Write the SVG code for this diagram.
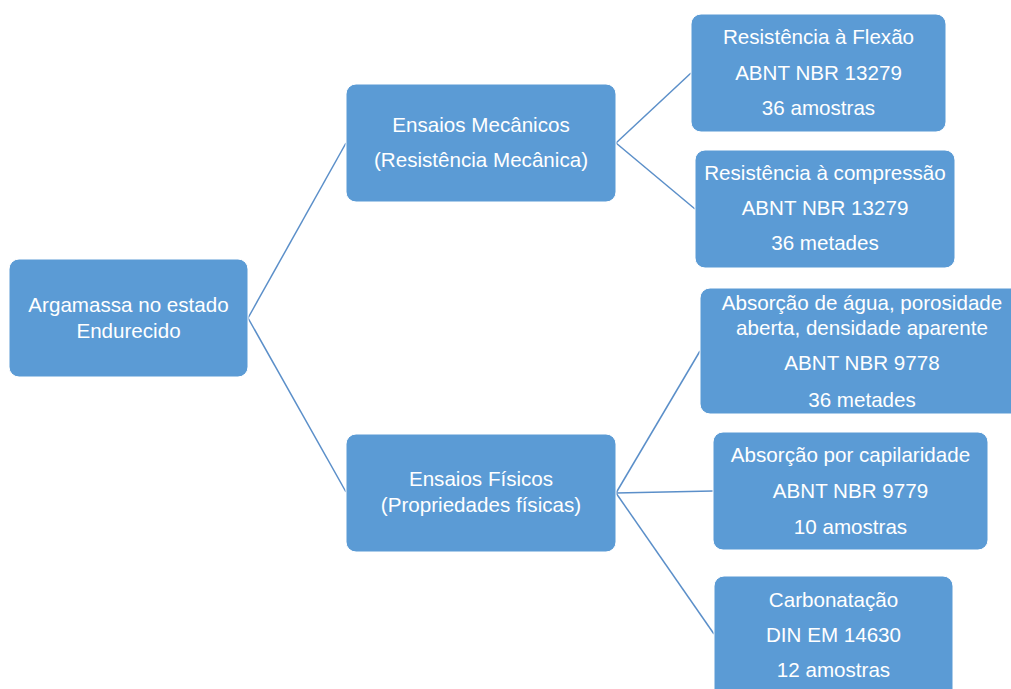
<svg xmlns="http://www.w3.org/2000/svg" width="1011" height="689" viewBox="0 0 1011 689">
<style>
.box{fill:#5B9BD5;stroke:#FFFFFF;stroke-width:1}
.t{font-family:"Liberation Sans",Arial,sans-serif;font-size:20.6px;fill:#FFFFFF;text-anchor:middle}
.c{fill:none;stroke:#5B8FC9;stroke-width:1.5}
</style>
<rect width="1011" height="689" fill="#FFFFFF"/>
<g id="connectors">
<line class="c" x1="248" y1="318" x2="346" y2="143"/>
<line class="c" x1="248" y1="318" x2="346" y2="492"/>
<line class="c" x1="616" y1="143" x2="691" y2="73"/>
<line class="c" x1="616" y1="143" x2="695" y2="209"/>
<line class="c" x1="616" y1="493" x2="700" y2="351"/>
<line class="c" x1="616" y1="493" x2="713" y2="491"/>
<line class="c" x1="616" y1="493" x2="714" y2="634"/>
</g>
<g id="root">
<rect class="box" x="9" y="259" width="239" height="118" rx="10"/>
<text class="t" x="128.5" y="312">Argamassa no estado</text>
<text class="t" x="128.5" y="338">Endurecido</text>
</g>
<g id="mecanicos">
<rect class="box" x="346" y="84" width="270" height="118" rx="10"/>
<text class="t" x="481" y="132">Ensaios Mecânicos</text>
<text class="t" x="481" y="167">(Resistência Mecânica)</text>
</g>
<g id="fisicos">
<rect class="box" x="346" y="434" width="270" height="118" rx="10"/>
<text class="t" x="481" y="486">Ensaios Físicos</text>
<text class="t" x="481" y="512">(Propriedades físicas)</text>
</g>
<g id="flexao">
<rect class="box" x="691" y="14" width="255" height="118" rx="10"/>
<text class="t" x="818.5" y="44">Resistência à Flexão</text>
<text class="t" x="818.5" y="80">ABNT NBR 13279</text>
<text class="t" x="818.5" y="115">36 amostras</text>
</g>
<g id="compressao">
<rect class="box" x="695" y="150" width="260" height="118" rx="10"/>
<text class="t" x="825" y="180">Resistência à compressão</text>
<text class="t" x="825" y="215">ABNT NBR 13279</text>
<text class="t" x="825" y="250">36 metades</text>
</g>
<g id="agua">
<rect class="box" x="700" y="288" width="325" height="126" rx="10"/>
<text class="t" x="862" y="310">Absorção de água, porosidade</text>
<text class="t" x="862" y="335">aberta, densidade aparente</text>
<text class="t" x="862" y="370">ABNT NBR 9778</text>
<text class="t" x="862" y="407">36 metades</text>
</g>
<g id="capilaridade">
<rect class="box" x="713" y="432" width="275" height="118" rx="10"/>
<text class="t" x="850.5" y="462">Absorção por capilaridade</text>
<text class="t" x="850.5" y="498">ABNT NBR 9779</text>
<text class="t" x="850.5" y="534">10 amostras</text>
</g>
<g id="carbonatacao">
<rect class="box" x="714" y="576" width="239" height="125" rx="10"/>
<text class="t" x="833.5" y="607">Carbonatação</text>
<text class="t" x="833.5" y="642">DIN EM 14630</text>
<text class="t" x="833.5" y="677">12 amostras</text>
</g>
</svg>
